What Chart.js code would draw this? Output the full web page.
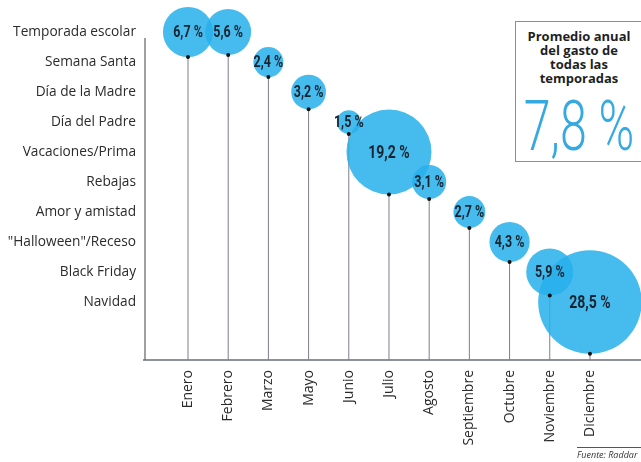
<!DOCTYPE html>
<html lang="es">
<head>
<meta charset="utf-8">
<title>Gasto por temporada</title>
<script src="https://cdn.jsdelivr.net/npm/chart.js@4.4.1/dist/chart.umd.min.js"></script>
<style>
    html, body { margin: 0; padding: 0; background: #fff; overflow: hidden; }
    #wrap { position: relative; width: 641px; height: 462px; overflow: hidden; }
    #promedio {
        position: absolute; left: 515px; top: 21px; width: 135px; height: 141px;
        border: 1px solid #8a8f96; box-sizing: border-box; background: #fff;
    }
    #promedio .txt {
        width: 126px; text-align: center; margin-top: 7px;
        font: bold 13px/14px "Open Sans", sans-serif; color: #1f1f1f;
    }
    #promedio .big {
        position: absolute; left: 63px; top: 69px; white-space: nowrap;
        transform: translateX(-50%) scaleX(0.69);
        font: 300 70px/70px Roboto, sans-serif; color: #35a9e0;
    }
    #fuente {
        position: absolute; left: 577px; top: 447px; width: 80px; border-top: 1px solid #555;
        font: italic 9px/13px "Open Sans", sans-serif; color: #333; white-space: nowrap;
    }
</style>
</head>
<body>
<div id="wrap">
    <canvas id="gastoChart" width="641" height="462"></canvas>
    <div id="promedio">
        <div class="txt">Promedio anual<br>del gasto de<br>todas las<br>temporadas</div>
        <div class="big">7,8 %</div>
    </div>
    <div id="fuente">Fuente: Raddar</div>
</div>
<script>
// temporadas (eje Y) y meses (eje X)
const seasons = ["Temporada escolar", "Semana Santa", "Día de la Madre", "Día del Padre",
    "Vacaciones/Prima", "Rebajas", "Amor y amistad", "\"Halloween\"/Receso", "Black Friday", "Navidad"];
const months = ["Enero", "Febrero", "Marzo", "Mayo", "Junio", "Julio", "Agosto",
    "Septiembre", "Octubre", "Noviembre", "Diciembre"];
// fila de temporada para cada mes
const monthSeason = [0, 0, 1, 2, 3, 4, 5, 6, 7, 8, 9];
// % del gasto por mes
const shares = [6.7, 5.6, 2.4, 3.2, 1.5, 19.2, 3.1, 2.7, 4.3, 5.9, 28.5];

const fmt = v => v.toFixed(1).replace(".", ",") + " %";

const bubbles = months.map((m, i) => ({ x: i, y: monthSeason[i], r: 9.7 * Math.sqrt(shares[i]) }));

// ejes, palitos verticales, puntos y etiquetas
const stemsPlugin = {
    id: "stems",
    beforeDatasetsDraw(chart) {
        const { ctx, chartArea } = chart;
        const meta = chart.getDatasetMeta(0);
        ctx.save();
        ctx.strokeStyle = "#6b6e78";
        ctx.lineWidth = 1.3;
        ctx.beginPath();
        ctx.moveTo(chartArea.left, 38);
        ctx.lineTo(chartArea.left, chartArea.bottom);
        ctx.moveTo(chartArea.left - 2, chartArea.bottom);
        ctx.lineTo(chartArea.right, chartArea.bottom);
        ctx.stroke();

        ctx.strokeStyle = "#7c7f8c";
        ctx.lineWidth = 1;
        meta.data.forEach(pt => {
            const r = pt.options.radius;
            ctx.beginPath();
            ctx.moveTo(pt.x, pt.y + r);
            ctx.lineTo(pt.x, chartArea.bottom);
            ctx.stroke();
        });
        ctx.restore();
    },
    afterDatasetsDraw(chart) {
        const { ctx } = chart;
        const meta = chart.getDatasetMeta(0);
        meta.data.forEach((pt, i) => {
            const r = pt.options.radius;
            ctx.save();
            ctx.fillStyle = "#111";
            ctx.beginPath();
            ctx.arc(pt.x, pt.y + r, 2, 0, Math.PI * 2);
            ctx.fill();

            // etiqueta condensada
            ctx.translate(pt.x, pt.y + 1);
            ctx.scale(0.78, 1);
            ctx.fillStyle = "#17232e";
            ctx.font = (shares[i] > 15 ? "bold 18px" : "bold 16px") + " Roboto, sans-serif";
            ctx.textAlign = "center";
            ctx.textBaseline = "middle";
            ctx.fillText(fmt(shares[i]), 0, 0);
            ctx.restore();
        });
    }
};

new Chart(document.getElementById("gastoChart"), {
    type: "bubble",
    data: {
        datasets: [{
            data: bubbles,
            backgroundColor: "rgba(40, 176, 235, 0.86)",
            borderWidth: 0,
            hoverRadius: 0,
            clip: false
        }]
    },
    options: {
        responsive: false,
        animation: false,
        events: [],
        layout: { padding: 0, autoPadding: false },
        plugins: { legend: { display: false }, tooltip: { enabled: false } },
        scales: {
            x: {
                type: "linear",
                min: -1.07,
                max: 11.27,
                afterFit: s => { s.height = 102; },
                afterBuildTicks: s => { s.ticks = months.map((m, i) => ({ value: i })); },
                grid: { display: false, drawTicks: false },
                border: { display: false },
                ticks: {
                    autoSkip: false,
                    minRotation: 90,
                    maxRotation: 90,
                    padding: 10,
                    color: "#2b2b2b",
                    font: { family: "Open Sans", size: 14 },
                    callback: v => months[v]
                }
            },
            y: {
                type: "linear",
                reverse: true,
                min: -1.067,
                max: 10.933,
                afterFit: s => { s.width = 145; s.paddingTop = 0; s.paddingBottom = 0; },
                afterBuildTicks: s => { s.ticks = seasons.map((t, i) => ({ value: i })); },
                grid: { display: false, drawTicks: false },
                border: { display: false },
                ticks: {
                    autoSkip: false,
                    padding: 9,
                    color: "#2b2b2b",
                    font: { family: "Open Sans", size: 13.7 },
                    callback: v => seasons[v]
                }
            }
        }
    },
    plugins: [stemsPlugin]
});
</script>
</body>
</html>
